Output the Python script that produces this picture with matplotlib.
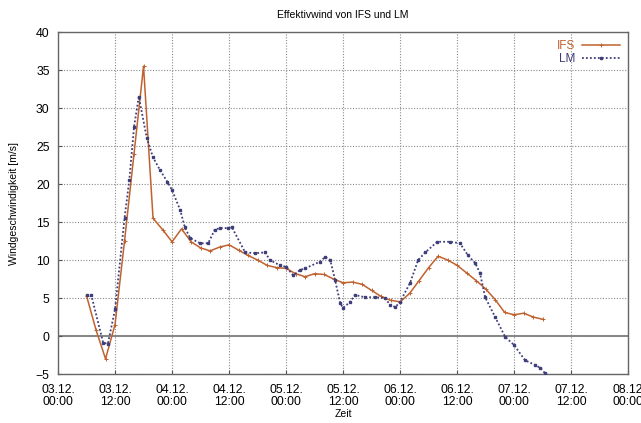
import matplotlib
matplotlib.use("Agg")
import matplotlib.pyplot as plt

plt.rcParams['font.family'] = ['Liberation Sans', 'DejaVu Sans']

# hours after 03.12. 00:00
ifs_hours = [6, 8, 10, 12, 14, 16, 18, 20, 22, 24, 26, 28, 30, 32, 34, 36, 38, 40,
             42, 44, 46, 48, 50, 52, 54, 56, 58, 60, 62, 64, 66, 68, 70, 72, 74, 76,
             78, 80, 82, 84, 86, 88, 90, 92, 94, 96, 98, 100, 102]
ifs_wind = [5.3, 0.8, -3.0, 1.5, 12.5, 24.0, 35.5, 15.5, 14.0, 12.4, 14.1, 12.4,
            11.6, 11.2, 11.7, 12.0, 11.3, 10.6, 10.0, 9.3, 9.0, 8.9, 8.2, 7.8,
            8.2, 8.1, 7.5, 7.0, 7.1, 6.8, 6.0, 5.2, 4.7, 4.5, 5.6, 7.3, 9.0, 10.5,
            10.0, 9.3, 8.3, 7.3, 6.2, 4.8, 3.1, 2.8, 3.0, 2.5, 2.2]

lm_hours = [6, 7, 9.5, 10.5, 12, 14, 15, 16, 17, 18.7, 20, 21.5, 23, 24, 25.7,
            26.7, 27.8, 29.9, 31.6, 33, 34.1, 35.8, 36.6, 39.4, 41.5, 43.6, 44.6,
            46.7, 48, 49.5, 51, 52, 55.2, 56.2, 57.3, 58.3, 59.4, 60, 61.5, 62.5,
            64.6, 66.7, 68.8, 69.9, 71, 72, 74.1, 75.8, 77.3, 79.8, 82.5, 84.6,
            86.3, 87.8, 88.8, 89.9, 92, 94.1, 96, 98.3, 100.4, 101.5, 102.5]
lm_wind = [5.4, 5.4, -0.9, -1.0, 3.5, 15.5, 20.5, 27.5, 31.5, 26.0, 23.5, 21.8,
           20.3, 19.2, 16.6, 14.3, 12.9, 12.2, 12.2, 14.0, 14.2, 14.2, 14.3, 11.0,
           10.9, 11.0, 10.0, 9.3, 9.1, 8.0, 8.7, 8.9, 9.8, 10.4, 10.0, 7.4, 4.3,
           3.7, 4.5, 5.4, 5.1, 5.1, 5.0, 4.1, 3.8, 4.5, 7.0, 10.0, 11.0, 12.4,
           12.4, 12.2, 10.6, 9.6, 8.3, 5.1, 2.5, -0.1, -1.2, -3.2, -3.8, -4.2, -4.9]

tick_hours = list(range(0, 121, 12))
tick_labels = ['03.12.\n00:00', '03.12.\n12:00', '04.12.\n00:00', '04.12.\n12:00',
               '05.12.\n00:00', '05.12.\n12:00', '06.12.\n00:00', '06.12.\n12:00',
               '07.12.\n00:00', '07.12.\n12:00', '08.12\n00:00']

fig = plt.figure(figsize=(6.41, 4.23), dpi=100)
ax = fig.add_axes([0.0905, 0.1158, 0.8895, 0.8085])

ax.axhline(0, color='#707070', lw=1.2, zorder=1)
ax.plot(ifs_hours, ifs_wind, color='#c0622f', lw=1.1, marker='+', ms=3,
        mew=0.7, label='IFS', zorder=3)
ax.plot(lm_hours, lm_wind, color='#3e3e7a', lw=1.3, ls=(0, (1, 1.2)),
        marker='s', ms=1.6, label='LM', zorder=3)

ax.set_xlim(0, 120)
ax.set_ylim(-5, 40)
ax.set_xticks(tick_hours)
ax.set_xticklabels(tick_labels, fontsize=8.8, linespacing=1.0)
ax.set_yticks(range(-5, 41, 5))
ax.tick_params(labelsize=8.8, direction='in', length=3, color='#555555')
ax.tick_params(axis='x', pad=7)
ax.tick_params(axis='y', pad=6)
ax.grid(True, color='#8a8a8a', lw=0.8, ls=(0, (1, 1.5)))
for s in ax.spines.values():
    s.set_color('#666666')
    s.set_linewidth(1.0)

ax.set_title('Effektivwind von IFS und LM', fontsize=7.5, pad=10)
ax.set_xlabel('Zeit', fontsize=7.5, labelpad=1)
ax.set_ylabel('Windgeschwindigkeit [m/s]', fontsize=7.5, labelpad=12)

leg = ax.legend(loc='upper right', frameon=False, markerfirst=False, numpoints=1,
                fontsize=8.5, handlelength=3.2, labelspacing=0.05,
                borderaxespad=0.3, labelcolor='linecolor', handletextpad=0.6)

fig.savefig('out.png', dpi=100)
